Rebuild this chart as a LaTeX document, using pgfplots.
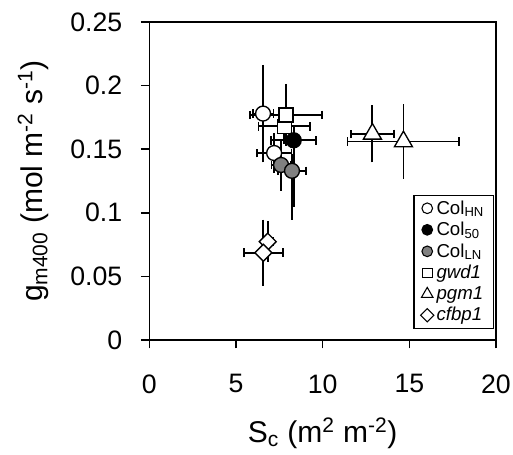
\documentclass[border=0pt]{standalone}
\usepackage{fontspec}
\setmainfont{Liberation Sans}
\usepackage{pgfplots}
\pgfplotsset{compat=1.18}
\definecolor{mgray}{RGB}{128,128,128}
\begin{document}
\begin{tikzpicture}
\pgfplotsset{
  xe/.style={only marks, mark=none, forget plot,
    error bars/x dir=both, error bars/x explicit, error bars/y dir=none,
    error bars/error mark=|,
    error bars/error bar style={line width=1.4pt, black},
    error bars/error mark options={line width=1.4pt, black, mark size=3.2pt}},
  ye/.style={only marks, mark=none, forget plot,
    error bars/y dir=both, error bars/y explicit, error bars/x dir=none,
    error bars/error mark=-,
    error bars/error bar style={line width=1.4pt, black},
    error bars/error mark options={line width=1.4pt, black, mark size=3.2pt}},
  mk/.style={only marks, forget plot},
}
\begin{axis}[
  scale only axis, width=260pt, height=238.5pt,
  xmin=0, xmax=20, ymin=0, ymax=0.25,
  xtick={0,5,10,15,20}, ytick={0,0.05,0.1,0.15,0.2,0.25},
  scaled y ticks=false,
  tick align=outside, major tick length=6.3pt,
  xtick pos=bottom, ytick pos=left,
  axis line style={line width=1.1pt},
  tick style={line width=1.1pt, black},
  ticklabel style={font=\fontsize{20}{24}\selectfont},
  yticklabel style={xshift=-10.5pt},
  xticklabel style={yshift=-16pt},
  /pgf/number format/assume math mode=true,
  yticklabel style={/pgf/number format/fixed, /pgf/number format/precision=2},
  xlabel={S\textsubscript{c} (m\textsuperscript{2} m\textsuperscript{-2})},
  ylabel={g\textsubscript{m400} (mol m\textsuperscript{-2} s\textsuperscript{-1})},
  label style={font=\fontsize{22.5}{26}\selectfont},
  xlabel style={at={(axis description cs:0.5,-0.3217)}, anchor=base},
  ylabel style={at={(axis description cs:-0.3086,0.5)}, anchor=base},
  legend style={at={(rel axis cs:0.994,0.035)}, anchor=south east,
    draw=black, line width=0.8pt, font=\fontsize{14}{16.5}\selectfont,
    inner xsep=5pt, inner ysep=2pt, row sep=0.5pt},
  legend cell align=left,
]
\coordinate (sw) at (rel axis cs:0,0);
\coordinate (ne) at (rel axis cs:1,1);
% ---- x error bars
\addplot[xe] coordinates { (7.79,0.168) +- (1.49,0) (7.89,0.177) +- (2.06,0) };
\addplot[xe] coordinates { (6.56,0.178) +- (0.6,0) (7.20,0.147) +- (1.0,0) };
\addplot[xe] coordinates { (8.33,0.157) +- (1.3,0) };
\addplot[xe] coordinates { (7.60,0.1376) +- (0.55,0) (8.23,0.133) +- (0.8,0) };
\addplot[xe] coordinates { (12.87,0.162) +- (1.23,0) (14.66,0.156) +- (3.23,0) };
\addplot[xe] coordinates { (6.83,0.0773) +- (0.3,0) (6.58,0.0686) +- (1.13,0) };
% ---- y error bars
\addplot[ye] coordinates { (7.79,0.168) +- (0,0.0105) (7.89,0.177) +- (0,0.021) };
\addplot[ye] coordinates { (6.56,0.178) +- (0,0.035) (7.20,0.147) +- (0,0.012) };
\addplot[ye] coordinates { (8.33,0.157) += (0,0.008) -= (0,0.049) };
\addplot[ye] coordinates { (7.60,0.1376) +- (0,0.017) (8.23,0.133) += (0,0.01) -= (0,0.035) };
\addplot[ye] coordinates { (12.87,0.162) +- (0,0.019) (14.66,0.156) +- (0,0.026) };
\addplot[ye] coordinates { (6.83,0.0773) +- (0,0.0126) (6.58,0.0686) +- (0,0.0227) };
% ---- markers
% gwd1
\addplot[mk, mark=square*, mark size=5.25pt, mark options={fill=white, draw=black, line width=1pt}]
  coordinates { (7.79,0.168) (7.89,0.177) };
% ColHN
\addplot[mk, mark=*, mark size=5.6pt, mark options={fill=white, draw=black, line width=1pt}]
  coordinates { (6.56,0.178) (7.20,0.147) };
% Col50
\addplot[mk, mark=*, mark size=5.6pt, mark options={fill=black, draw=black, line width=1pt}]
  coordinates { (8.33,0.157) };
% ColLN
\addplot[mk, mark=*, mark size=5.6pt, mark options={fill=mgray, draw=black, line width=1pt}]
  coordinates { (7.60,0.1376) (8.23,0.133) };
% pgm1
\addplot[mk, mark=triangle*, mark size=7.8pt, mark options={fill=white, draw=black, line width=1pt}]
  coordinates { (12.87,0.162) (14.66,0.156) };
% cfbp1
\addplot[mk, mark=square*, mark size=4.5pt, mark options={rotate=45, fill=white, draw=black, line width=1pt}]
  coordinates { (6.83,0.0773) (6.58,0.0686) };
% ---- legend
\addlegendimage{only marks, mark=*, mark size=4pt, mark options={fill=white, draw=black, line width=0.8pt}}
\addlegendentry{Col\textsubscript{HN}}
\addlegendimage{only marks, mark=*, mark size=4pt, mark options={fill=black, draw=black, line width=0.8pt}}
\addlegendentry{Col\textsubscript{50}}
\addlegendimage{only marks, mark=*, mark size=4pt, mark options={fill=mgray, draw=black, line width=0.8pt}}
\addlegendentry{Col\textsubscript{LN}}
\addlegendimage{only marks, mark=square*, mark size=3.6pt, mark options={fill=white, draw=black, line width=0.8pt}}
\addlegendentry{\textit{gwd1}}
\addlegendimage{only marks, mark=triangle*, mark size=5pt, mark options={fill=white, draw=black, line width=0.8pt}}
\addlegendentry{\textit{pgm1}}
\addlegendimage{only marks, mark=square*, mark size=3.5pt, mark options={rotate=45, fill=white, draw=black, line width=0.8pt}}
\addlegendentry{\textit{cfbp1}}
\end{axis}
\pgfresetboundingbox
\path[use as bounding box] ([xshift=-112pt,yshift=-86.25pt]sw) rectangle ([xshift=12.75pt,yshift=16.5pt]ne);
\end{tikzpicture}
\end{document}
